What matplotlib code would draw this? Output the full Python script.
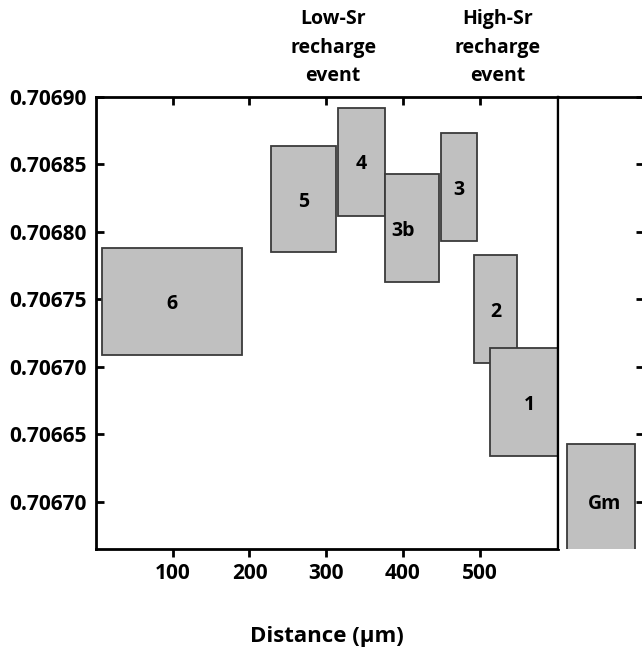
import numpy as np
import matplotlib
matplotlib.use("Agg")
import matplotlib.pyplot as plt

plt.rcParams['font.family'] = ['Open Sans', 'DejaVu Sans']
plt.rcParams['font.weight'] = 'bold'

# sample boxes: distance range (um) and 87Sr/86Sr range
box_labels = ['6', '5', '4', '3b', '3', '2', '1']
dist_start = [8, 228, 315, 377, 449, 493, 514]
dist_end = [190, 313, 377, 447, 496, 549, 603]
sr_low = [0.706709, 0.706785, 0.706812, 0.706763, 0.706793, 0.706703, 0.706634]
sr_high = [0.706788, 0.706864, 0.706892, 0.706843, 0.706873, 0.706783, 0.706714]

# groundmass box (separate panel)
gm_label = 'Gm'
gm_low = 0.70650
gm_high = 0.706643

yticks = [0.70690, 0.70685, 0.70680, 0.70675, 0.70670, 0.70665, 0.70660]
ytick_labels = ['0.70690', '0.70685', '0.70680', '0.70675', '0.70670', '0.70665', '0.70670']
xticks = [100, 200, 300, 400, 500]

events = ['Low-Sr\nrecharge\nevent', 'High-Sr\nrecharge\nevent']
event_x = [309, 523]

W, H = 642, 652
fig = plt.figure(figsize=(W / 100, H / 100), dpi=100)
ax = fig.add_axes([96 / W, 1 - 549 / H, 462 / W, 452 / H])
ax2 = fig.add_axes([558 / W, 1 - 549 / H, 86 / W, 452 / H])

fill = '#c0c0c0'
edge = '#3a3a3a'

heights = np.array(sr_high) - np.array(sr_low)
widths = np.array(dist_end) - np.array(dist_start)
ax.bar(dist_start, heights, width=widths, bottom=sr_low, align='edge',
       color=fill, edgecolor=edge, linewidth=1.3, zorder=2)
for lab, x0, x1, lo, hi in zip(box_labels, dist_start, dist_end, sr_low, sr_high):
    # labels of 3b and 1 sit a little off centre in the original
    dx = {'3b': -12, '1': 6}.get(lab, 0)
    ax.text((x0 + x1) / 2 + dx, (lo + hi) / 2 - 0.000002, lab, ha='center',
            va='center', fontsize=14, fontweight='bold', zorder=3)

ylim = (0.706565, 0.706900)
ax.set_xlim(0, 602)
ax.set_ylim(*ylim)
ax.set_yticks(yticks)
ax.set_yticklabels(ytick_labels)
ax.set_xticks(xticks)
ax.set_xticklabels([str(t) for t in xticks])
ax.tick_params(axis='y', direction='in', length=6, width=2, labelsize=15, pad=7)
ax.tick_params(axis='x', direction='out', length=6, width=2, labelsize=15, pad=4,
               top=True)
# top ticks point inward
for t in ax.xaxis.get_major_ticks():
    t.tick2line.set_marker(3)  # TICKDOWN
    t.tick2line.set_markersize(6)
    t.tick2line.set_markeredgewidth(2)
for sp in ['left', 'top', 'bottom']:
    ax.spines[sp].set_linewidth(2)
ax.spines['right'].set_linewidth(1.6)
ax.spines['right'].set_zorder(5)
ax.set_xlabel('Distance (µm)', fontsize=16, fontweight='bold', labelpad=30)

for txt, x in zip(events, event_x):
    ax.text(x, 1.109, txt, transform=ax.get_xaxis_transform(), ha='center',
            va='center', fontsize=14, fontweight='bold', linespacing=1.55)

# groundmass panel
ax2.bar([0.11], [gm_high - gm_low], width=0.79, bottom=gm_low, align='edge',
        color=fill, edgecolor=edge, linewidth=1.3, zorder=2)
ax2.text(0.54, 0.706598, gm_label, ha='center', va='center', fontsize=14,
         fontweight='bold', zorder=3)
ax2.set_xlim(0, 1)
ax2.set_ylim(*ylim)
ax2.set_xticks([])
ax2.yaxis.tick_right()
ax2.set_yticks(yticks)
ax2.set_yticklabels([])
ax2.tick_params(axis='y', direction='in', length=6, width=2)
ax2.spines['bottom'].set_visible(False)
ax2.spines['left'].set_linewidth(1.6)
ax2.spines['top'].set_linewidth(2)
ax2.spines['right'].set_linewidth(2)

fig.savefig('out.png', dpi=100)
